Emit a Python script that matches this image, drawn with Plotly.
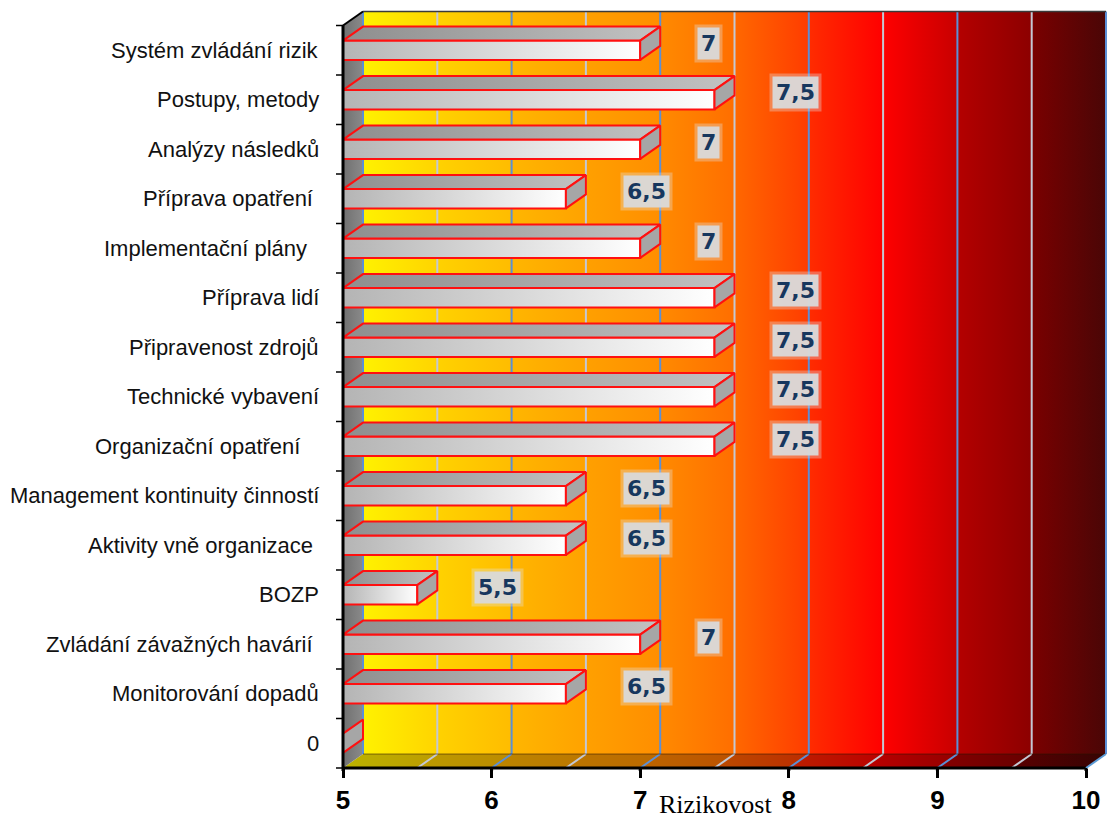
import plotly.graph_objects as go

# ---- data ---------------------------------------------------------------
categories = [
    "0",
    "Monitorování dopadů",
    "Zvládání závažných havárií ",
    "BOZP",
    "Aktivity vně organizace ",
    "Management kontinuity činností",
    "Organizační opatření   ",
    "Technické vybavení",
    "Připravenost zdrojů",
    "Příprava lidí",
    "Implementační plány  ",
    "Příprava opatření ",
    "Analýzy následků",
    "Postupy, metody",
    "Systém zvládání rizik",
]
values = [0, 6.5, 7, 5.5, 6.5, 6.5, 7.5, 7.5, 7.5, 7.5, 7, 6.5, 7, 7.5, 7]
x_ticks = [5, 6, 7, 8, 9, 10]
axis_title = "Rizikovost"

# ---- style / geometry ---------------------------------------------------
X_MIN, X_MAX = 5, 10
PX_X = 148.6          # pixels per unit on x
PX_Y = 49.5           # pixels per category row
DX = 20 / PX_X        # 3-D depth offset, x
DY = 14 / PX_Y        # 3-D depth offset, y
HALF = 0.195          # half height of a bar front face (rows)
N = len(categories)
PLOT_H = 763

# colour of each half-unit band of the back wall (start, end)
wall_bands = [
    ("#FFF200", "#FFD400"),
    ("#FFD200", "#FFBC00"),
    ("#FFB600", "#FFA200"),
    ("#FFA000", "#FF8E00"),
    ("#FF8A00", "#FF6E00"),
    ("#FF6800", "#FF3C00"),
    ("#FF2C00", "#FF0000"),
    ("#FF0000", "#C80000"),
    ("#B40000", "#8C0000"),
    ("#7A0000", "#4A0606"),
]


def darker(hexcol, f):
    r, g, b = (int(hexcol[i:i + 2], 16) for i in (1, 3, 5))
    return "#%02X%02X%02X" % (int(r * f), int(g * f), int(b * f))


fig = go.Figure()


def poly(xs, ys, c0, c1=None, line_color=None, line_width=0):
    kw = dict(
        x=list(xs) + [xs[0]], y=list(ys) + [ys[0]], mode="lines", fill="toself",
        line=dict(color=line_color or "rgba(0,0,0,0)", width=line_width),
        hoverinfo="skip", showlegend=False,
    )
    if c1 is None:
        kw["fillcolor"] = c0
    else:
        kw["fillgradient"] = dict(type="horizontal", colorscale=[[0, c0], [1, c1]])
    fig.add_trace(go.Scatter(**kw))


# back wall and floor, one band per half unit
step = 0.5
for k, (c0, c1) in enumerate(wall_bands):
    x0 = X_MIN + k * step
    x1 = x0 + step
    poly([x0 + DX, x1 + DX, x1 + DX, x0 + DX], [DY, DY, N + DY, N + DY], c0, c1)
    poly([x0, x1, x1 + DX, x0 + DX], [0, 0, DY, DY], darker(c0, 0.74), darker(c1, 0.74))

# left side wall
poly([X_MIN, X_MIN + DX, X_MIN + DX, X_MIN], [0, DY, N + DY, N], "#707070", "#8A8A8A")

# grid lines on the back wall and the floor
for integer, color in ((False, "#C4C8D4"), (True, "#5B8FD6")):
    gx, gy = [], []
    k = 0
    while X_MIN + k * step <= X_MAX + 1e-9:
        xv = X_MIN + k * step
        if (abs(xv - round(xv)) < 1e-9) == integer:
            gx += [xv + DX, xv + DX, None]
            gy += [DY, N + DY, None]
            if X_MIN < xv < X_MAX:
                gx += [xv, xv + DX, None]
                gy += [0, DY, None]
        k += 1
    fig.add_trace(go.Scatter(x=gx, y=gy, mode="lines",
                             line=dict(color=color, width=2),
                             hoverinfo="skip", showlegend=False))

# wall/floor junction
fig.add_trace(go.Scatter(x=[X_MIN + DX, X_MAX + DX], y=[DY, DY], mode="lines",
                         line=dict(color="rgba(40,20,0,0.55)", width=1.2),
                         hoverinfo="skip", showlegend=False))

# 3-D bars
RED = "#FF1010"
for i, v in enumerate(values):
    c = i + 0.5
    xe = max(v, X_MIN)
    lo, hi = c - HALF, c + HALF
    if xe > X_MIN:
        poly([X_MIN, xe, xe, X_MIN], [lo, lo, hi, hi], "#B4B4B4", "#FFFFFF", RED, 2)
        poly([X_MIN, xe, xe + DX, X_MIN + DX], [hi, hi, hi + DY, hi + DY],
             "#8E8E8E", "#C2C2C2", RED, 2)
    poly([xe, xe + DX, xe + DX, xe], [lo, lo + DY, hi + DY, hi], "#A6A6A6", None, RED, 2)

# frame lines
shapes = [
    dict(type="line", x0=X_MIN, x1=X_MIN, y0=0, y1=N, line=dict(color="black", width=3)),
    dict(type="line", x0=X_MIN, x1=X_MIN + DX, y0=N, y1=N + DY, line=dict(color="black", width=2)),
    dict(type="line", x0=X_MIN + DX, x1=X_MAX + DX, y0=N + DY, y1=N + DY,
         line=dict(color="#3A3A3A", width=1.5)),
    dict(type="line", x0=X_MIN, x1=X_MAX, y0=0, y1=0, line=dict(color="black", width=3)),
    dict(type="line", x0=X_MAX, x1=X_MAX + DX, y0=0, y1=DY, line=dict(color="#5B9BD5", width=2)),
]
for j in range(N + 1):
    shapes.append(dict(type="line", x0=X_MIN - 7 / PX_X, x1=X_MIN, y0=j, y1=j,
                       line=dict(color="black", width=1.5)))
for xv in x_ticks:
    shapes.append(dict(type="line", x0=xv, x1=xv, y0=0, y1=-3 / PX_Y,
                       line=dict(color="black", width=3)))

annotations = []
# category labels
for i, lab in enumerate(categories):
    core = lab.rstrip()
    text = core + "\u00a0" * (len(lab) - len(core))
    annotations.append(dict(x=X_MIN, y=i + 0.5, xref="x", yref="y", text=text,
                            showarrow=False, xanchor="right", xshift=-22,
                            font=dict(family="Liberation Sans, Arial", size=22, color="#111111")))

# value labels, placed a fixed distance right of each bar end
for i, v in enumerate(values):
    if v <= X_MIN:
        continue
    txt = ("%g" % v).replace(".", ",")
    for pad, shift, bg, fc in ((6, 54, "rgba(225,225,225,0.35)", "rgba(0,0,0,0)"),
                               (3, 57, "rgba(217,217,217,0.95)", "#17375E")):
        annotations.append(dict(x=v, y=i + 0.5 + 0.14, xref="x", yref="y", text=txt,
                                showarrow=False, bgcolor=bg, borderpad=pad,
                                xanchor="left", xshift=shift,
                                font=dict(family="DejaVu Sans", size=22, color=fc, weight="bold")))

annotations.append(dict(x=7.51, y=-34 / PLOT_H, xref="x", yref="paper", text=axis_title,
                        showarrow=False, yanchor="middle",
                        font=dict(family="Liberation Serif, Times New Roman", size=26, color="black")))

fig.update_layout(
    width=1108, height=819,
    margin=dict(l=333, r=0, t=8, b=48),
    paper_bgcolor="white", plot_bgcolor="white",
    shapes=shapes, annotations=annotations, showlegend=False,
    xaxis=dict(range=[X_MIN - 10 / PX_X, X_MIN + 765 / PX_X], showgrid=False, zeroline=False,
               showline=False, tickvals=x_ticks, ticktext=[str(t) for t in x_ticks],
               ticks="outside", ticklen=9, tickwidth=3, tickcolor="black",
               anchor="free", position=3 / PLOT_H,
               tickfont=dict(family="Liberation Sans, Arial", size=26, color="black", weight="bold")),
    yaxis=dict(range=[-3 / PX_Y, 760 / PX_Y], visible=False, showgrid=False, zeroline=False),
)

fig.write_html("out.html")
